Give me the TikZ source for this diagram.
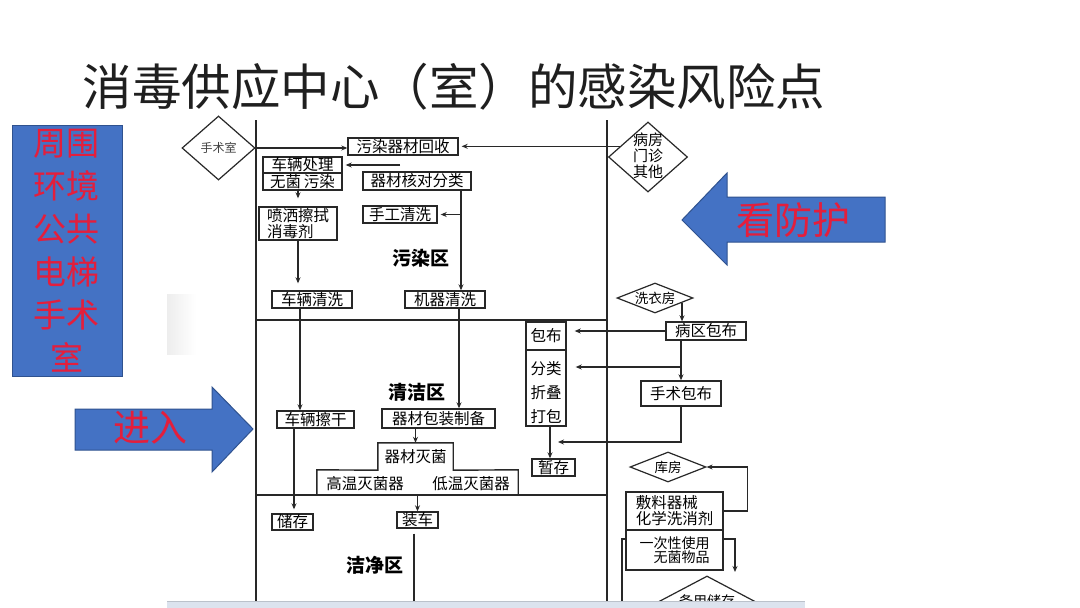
\documentclass[tikz,border=0pt]{standalone}
\usepackage{fontspec}
\setmainfont{Noto Sans CJK SC}
\usetikzlibrary{arrows.meta,shapes.geometric,calc}
\definecolor{blu}{RGB}{68,114,196}
\definecolor{bluedge}{RGB}{47,82,143}
\definecolor{rd}{RGB}{228,30,60}
\definecolor{lnc}{RGB}{40,40,40}
\definecolor{barc}{RGB}{220,227,238}
\begin{document}
\begin{tikzpicture}[x=1pt,y=-1pt,
 ln/.style={draw=lnc, line width=1.4pt},
 arr/.style={ln, -{Stealth[length=6pt,width=5pt]}},
 bx/.style 2 args={draw=lnc, line width=1.4pt, minimum width=#1pt, minimum height=#2pt, inner sep=0pt, font=\fontsize{15.5}{16}\selectfont, fill=white},
 dm/.style 2 args={diamond, draw=lnc, line width=1.2pt, minimum width=#1pt, minimum height=#2pt, inner sep=0pt, fill=white},
 dtxt/.style={inner sep=0pt, font=\fontsize{13.5}{15}\selectfont},
 zone/.style={inner sep=0pt, font=\fontsize{19}{20}\selectfont\bfseries},
 txt/.style={inner sep=0pt, font=\fontsize{15.5}{16}\selectfont},
 bigarrow/.style={fill=blu, draw=bluedge, line width=1pt},
 redtxt/.style={text=rd, inner sep=0pt}
]
\useasboundingbox[fill=white] (0,0) rectangle (1080,608);

% faint shadow
\shade[left color=black!7, right color=white, draw=none] (167,294) rectangle (196,354);

% title
\node[font=\fontsize{49.5}{50}\selectfont, text=black!88, inner sep=0pt] (title) at (454,87) {消毒供应中心（室）的感染风险点};

% left blue box
\node[draw=bluedge, fill=blu, line width=1pt, minimum width=110pt, minimum height=251pt, inner sep=0pt,
      text=rd, font=\fontsize{33}{43}\selectfont, align=center] (env) at (67,250.5) {周围\\环境\\公共\\电梯\\手术\\室};

% big arrows
\draw[bigarrow] (75,409) -- (212,409) -- (212,387) -- (253,429) -- (212,472) -- (212,450) -- (75,450) -- cycle;
\node[redtxt, font=\fontsize{37}{38}\selectfont] (jr) at (150,428) {进入};
\draw[bigarrow] (885,197) -- (727,197) -- (727,173) -- (682,220) -- (727,265) -- (727,242) -- (885,242) -- cycle;
\node[redtxt, font=\fontsize{38}{39}\selectfont] (kfh) at (793,220) {看防护};

% zone frame lines
\coordinate (vl1) at (256,120); \coordinate (vl2) at (256,608);
\coordinate (vr1) at (607,120); \coordinate (vr2) at (607,601);
\coordinate (h1a) at (256,320); \coordinate (h1b) at (607,320);
\coordinate (h2a) at (256,495); \coordinate (h2b) at (607,495);
\draw[ln] (vl1) -- (vl2);
\draw[ln] (vr1) -- (vr2);
\draw[ln] (h1a) -- (h1b);
\draw[ln] (h2a) -- (h2b);

% contaminated zone
\node[dm={73}{64}] (ssx) at (218.5,148) {};
\node[dtxt, font=\fontsize{12}{13}\selectfont, text=black!75] (ssxt) at (ssx) {手术室};
\node[bx={110}{17}] (wr) at (403,146.5) {污染器材回收};
\node[dm={79}{70}] (bf) at (648,157) {};
\node[txt, font=\fontsize{15}{16}\selectfont, align=center] (bft) at (648,156) {病房\\门诊\\其他};
\node[bx={79}{16}] (cl1) at (302.5,165) {车辆处理};
\node[bx={79}{17}] (cl2) at (302.5,181.5) {无菌\,污染};
\node[bx={108}{18}] (hd) at (417,181) {器材核对分类};
\node[bx={74}{17}] (sg) at (400,214.5) {手工清洗};
\node[bx={78}{33}, align=left] (pc) at (298,223.5) {喷洒擦拭\\消毒剂};
\node[bx={80}{17}] (cq) at (312,299.5) {车辆清洗};
\node[bx={80}{17}] (jq) at (445,299.5) {机器清洗};
\node[zone] (wrq) at (421,258) {污染区};

% clean zone
\node[bx={77}{17}] (cg) at (315.5,419.5) {车辆擦干};
\node[bx={113}{19}] (bz) at (438.5,418.5) {器材包装制备};
\node[zone] (qjq) at (417,392) {清洁区};
\node[txt, minimum width=75pt, minimum height=27pt] (mj) at (415.5,456.5) {器材灭菌};
\node[inner sep=0pt, minimum width=201pt, minimum height=25pt] (mjb) at (417.5,482.5) {};
\draw[ln] (mjb.south west) -- (mjb.north west) -- (mj.south west) -- (mj.north west) -- (mj.north east) -- (mj.south east) -- (mjb.north east) -- (mjb.south east);
\node[txt] (gw) at (365,484) {高温灭菌器};
\node[txt] (dw) at (471,484) {低温灭菌器};

% sterile zone
\node[bx={41}{16}] (cc) at (292.5,522) {储存};
\node[bx={41}{16}] (zc) at (417.5,520) {装车};
\node[zone] (jjq) at (375,565) {洁净区};

% right side
\node[dm={76}{30}] (xyf) at (655,298) {};
\node[dtxt] (xyft) at (xyf) {洗衣房};
\node[bx={80}{18}] (bqb) at (706,331) {病区包布};
\node[bx={40}{28}] (bb) at (546,336) {包布};
\node[bx={40}{76}] (fl) at (546,388) {};
\node[txt, font=\fontsize{15.5}{24}\selectfont, align=center] (flt) at (546,393) {分类\\折叠\\打包};
\node[bx={80}{25}] (ssb) at (681,393.5) {手术包布};
\node[bx={43}{17}] (zcun) at (553.5,467.5) {暂存};
\node[dm={76}{30}] (kf) at (668,467) {};
\node[dtxt] (kft) at (kf) {库房};
\node[bx={97}{38}, align=left] (dl) at (674.5,511) {敷料器械\\化学洗消剂};
\node[bx={97}{40}, align=right, font=\fontsize{14}{13.5}\selectfont] (yc) at (674.5,550) {一次性使用\\无菌物品};
\node[dm={102}{54}] (by) at (707,603) {};
\node[dtxt, font=\fontsize{14}{15}\selectfont] (byt) at (707,601) {备用储存};

% connectors - contaminated zone
\draw[arr] (ssx.east) -- (ssx.east -| wr.west);
\coordinate (P) at ($(bf.west)!0.3!(bf.north)$);
\draw[arr, shorten >=3pt] (P) -- (P -| wr.east);
\coordinate (cin) at (400,165);
\draw[arr, shorten >=3pt] (cin) -- (cin -| cl1.east);
\coordinate (xa) at (461,0);
\draw[arr] (hd.south -| xa) -- (jq.north -| xa);
\draw[arr, shorten >=3pt] (xa |- sg.east) -- (sg.east);
\draw[arr, shorten >=8pt] (cl2.south -| pc.north) -- (pc.north);
\draw[arr, shorten >=7pt] (pc.south) -- (pc.south |- cq.north);

% connectors - clean zone
\coordinate (xb) at (300,0);
\draw[arr] (cq.south -| xb) -- (cg.north -| xb);
\coordinate (xc) at (459,0);
\draw[arr] (jq.south -| xc) -- (bz.north -| xc);
\draw[arr] (bz.south -| mj.north) -- (mj.north);
\coordinate (xd) at (294,0);
\draw[arr, shorten >=4pt] (cg.south -| xd) -- (cc.north -| xd);
\draw[arr] (mjb.south -| zc.north) -- (zc.north);
\coordinate (zend) at (414,608);
\draw[ln, shorten <=5pt] (zc.south -| zend) -- (zend);

% connectors - right side
\coordinate (Q) at ($(xyf.east)!0.3!(xyf.south)$);
\draw[arr] (Q) -- (Q |- bqb.north);
\draw[arr, shorten >=8pt] (bqb.west) -- (bqb.west -| bb.east);
\coordinate (xe) at (681,0);
\draw[arr] (bqb.south -| xe) -- (ssb.north -| xe);
\coordinate (br1) at (681,367);
\draw[arr, shorten >=9pt] (br1) -- (br1 -| fl.east);
\coordinate (bin) at (558,442);
\draw[arr] (ssb.south) |- (bin);
\coordinate (xf) at (550,0);
\draw[arr] (fl.south -| xf) -- (zcun.north -| xf);
\draw[arr] (dl.east) -| ($(kf.east)+(41,0)$) -- (kf.east);
\coordinate (yr) at (735,572);
\draw[arr] ([yshift=11pt]yc.east) -| (yr);
\coordinate (yl) at (622,608);
\draw[ln] ([yshift=11pt]yc.west) -| (yl);

% bottom bar
\fill[barc] (167,601) rectangle (805,608);
\draw[barc!85!black, line width=0.8pt] (167,601) -- (805,601);
\end{tikzpicture}
\end{document}
